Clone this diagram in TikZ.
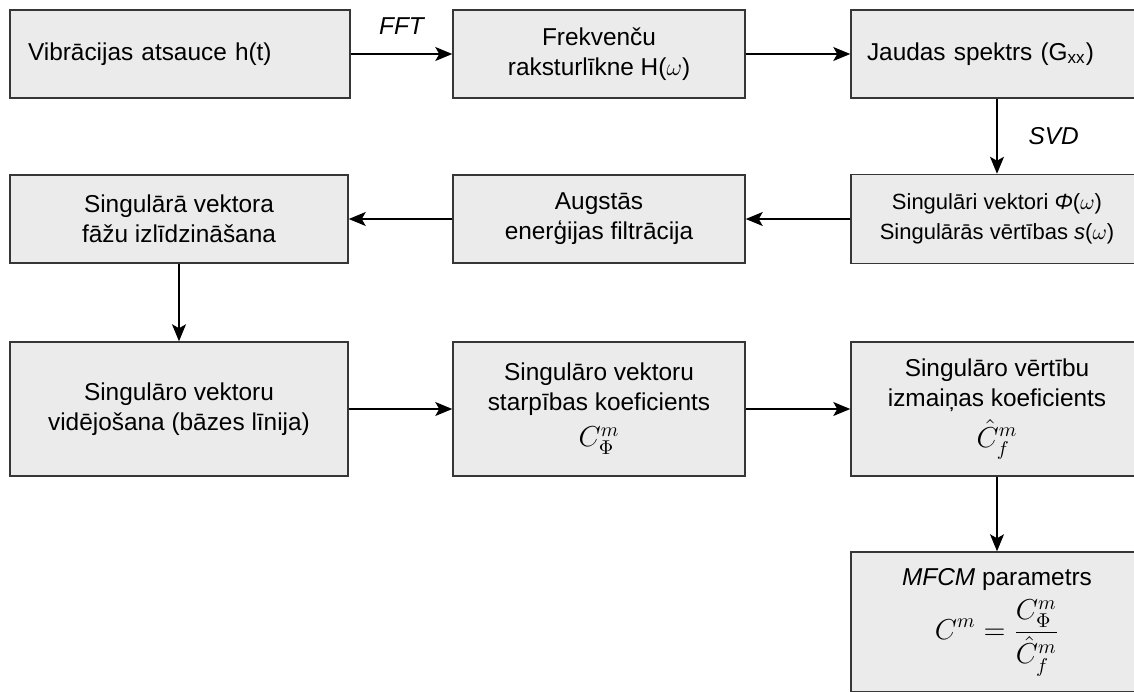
\documentclass[tikz,border=0pt]{standalone}
\usepackage{amsmath}
\usepackage{fontspec}
\setmainfont{Liberation Sans}
\usetikzlibrary{arrows.meta}
\definecolor{boxgray}{RGB}{235,235,235}
\definecolor{edgegray}{RGB}{54,54,54}
\newcommand{\bigmath}[1]{{\fontsize{14.4}{16}\selectfont$#1$}}

\begin{document}
\begin{tikzpicture}[x=0.5pt, y=-0.5pt,
    blk/.style={draw=edgegray, fill=boxgray, line width=0.75pt, inner sep=0pt,
      minimum width=146pt, minimum height=44pt, align=center,
      font=\fontsize{12.2}{15}\selectfont},
    conn/.style={-{Stealth[length=8.5pt, width=7pt, inset=2pt]}, line width=0.6pt},
    lbl/.style={inner sep=0pt, font=\fontsize{12.2}{15}\selectfont\itshape}]
    \useasboundingbox (0,0) rectangle (1134,691);
    \clip (0,0) rectangle (1134,691);
    % first row
    \node[blk, minimum width=170pt, text width=152pt, align=left] (resp) at (180,54) {Vibrācijas atsauce h(t)};
    \node[blk] (frf) at (599,54) {Frekvenču\\ raksturlīkne H($\omega$)};
    \node[blk, text width=130pt, align=left] (psd) at (997,54) {Jaudas spektrs (G\textsubscript{xx})};
    % second row
    \node[blk, minimum height=44.5pt, font=\fontsize{11}{15}\selectfont] (svd) at (997,219)
        {Singulāri vektori \textit{Φ}($\omega$)\\ Singulārās vērtības \textit{s}($\omega$)};
    \node[blk] (filt) at (599,219) {Augstās\\ enerģijas filtrācija};
    \node[blk, minimum width=169pt] (phase) at (179,219) {Singulārā vektora\\ fāžu izlīdzināšana};
    % third row
    \node[blk, minimum width=169pt, minimum height=67pt] (avg) at (179,409) {Singulāro vektoru\\ vidējošana (bāzes līnija)};
    \node[blk, minimum height=67pt] (vdiff) at (599,409) {Singulāro vektoru\\ starpības koeficients\\[3pt] \bigmath{C^m_\Phi}};
    \node[blk, minimum height=67pt] (sdiff) at (997,409) {Singulāro vērtību\\ izmaiņas koeficients\\[3pt] \bigmath{\hat{C}^m_f}};
    % result
    \node[blk, minimum height=70pt] (mfcm) at (997,622)
        {\textit{MFCM} parametrs\\[4pt] \bigmath{\displaystyle C^m=\frac{C^m_\Phi}{\hat{C}^m_f}}};
    % connectors
    \draw[conn] (resp) -- node[lbl, above=9.5pt] (fftlbl) {FFT} (frf);
    \draw[conn] (frf) -- (psd);
    \draw[conn] (psd) -- node[lbl, right=15.5pt] (svdlbl) {SVD} (svd);
    \draw[conn] (svd) -- (filt);
    \draw[conn] (filt) -- (phase);
    \draw[conn] (phase) -- (avg);
    \draw[conn] (avg) -- (vdiff);
    \draw[conn] (vdiff) -- (sdiff);
    \draw[conn] (sdiff) -- (mfcm);
\end{tikzpicture}
\end{document}
